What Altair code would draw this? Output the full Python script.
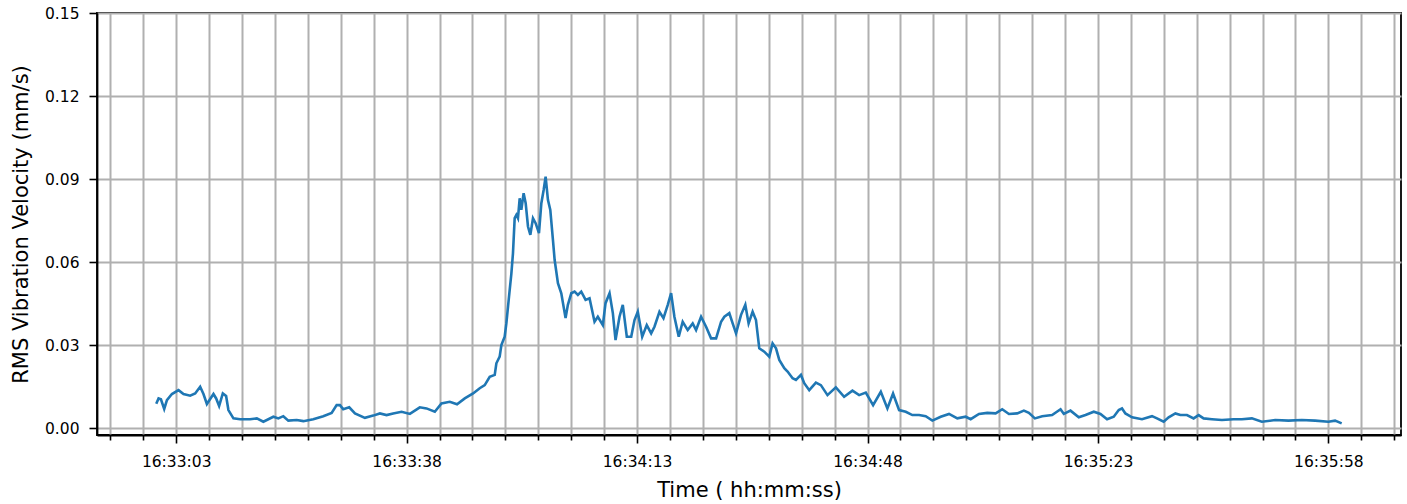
import altair as alt
import pandas as pd

# seconds relative to 16:33:03
T_SEC = [-3.03, -2.68, -2.32, -1.82, -1.41, -0.65, 0.35, 1.11, 2.12, 2.88, 3.64, 4.14, 4.66,
         5.66, 6.07, 6.52, 7.08, 7.58, 7.93, 8.69, 9.71, 11.22, 12.24, 13.24, 14.76, 15.51,
         16.27, 17.03, 18.30, 19.31, 20.82, 22.34, 23.61, 24.37, 24.87, 25.37, 26.28, 27.15,
         28.66, 29.92, 30.94, 31.95, 32.95, 34.23, 35.49, 37.00, 38.02, 39.28, 40.29, 41.55,
         42.66, 43.83, 45.09, 46.10, 46.86, 47.62, 48.38, 48.63, 49.13, 49.39, 49.89, 50.15,
         50.55, 50.91, 51.15, 51.41, 51.67, 51.91, 52.17, 52.42, 52.77, 53.08, 53.43, 53.79,
         54.19, 54.59, 55.10, 55.46, 55.81, 56.11, 56.46, 56.82, 57.22, 57.48, 57.98, 58.49,
         59.14, 59.49, 60.01, 60.51, 61.01, 61.52, 62.18, 62.78, 63.54, 64.04, 64.80, 65.21,
         65.82, 66.32, 66.73, 67.33, 67.83, 68.44, 69.11, 69.61, 70.11, 70.78, 71.47, 72.14,
         72.64, 73.40, 74.01, 74.66, 75.17, 75.67, 76.33, 76.93, 77.69, 78.45, 78.96, 79.72,
         80.48, 81.24, 82.00, 82.76, 83.26, 84.01, 84.52, 85.03, 85.79, 86.44, 86.94, 87.55,
         88.06, 88.56, 89.32, 90.08, 90.58, 91.10, 91.60, 92.36, 92.86, 93.62, 94.13, 94.89,
         95.39, 96.15, 97.16, 97.92, 98.92, 100.19, 101.45, 102.71, 103.73, 104.74, 105.85,
         107.02, 108.02, 108.88, 109.80, 110.81, 111.81, 112.83, 113.84, 114.85, 116.12,
         117.38, 118.64, 119.91, 120.67, 121.93, 123.19, 124.46, 125.46, 126.48, 127.74,
         128.75, 129.51, 130.42, 131.53, 133.04, 134.32, 134.82, 135.83, 137.09, 138.11,
         139.37, 140.38, 141.39, 142.40, 143.16, 143.66, 144.17, 145.18, 146.69, 148.21,
         148.97, 149.98, 150.74, 151.76, 152.52, 153.52, 154.53, 155.29, 156.05, 157.31,
         158.83, 160.60, 161.86, 163.38, 164.89, 166.92, 168.94, 170.96, 172.99, 175.00,
         176.02, 177.02]

RMS = [0.0089, 0.0108, 0.0105, 0.0070, 0.0102, 0.0124, 0.0138, 0.0124, 0.0118, 0.0126, 0.0150,
       0.0124, 0.0088, 0.0124, 0.0108, 0.0081, 0.0126, 0.0117, 0.0066, 0.0036, 0.0033, 0.0033,
       0.0036, 0.0024, 0.0042, 0.0036, 0.0044, 0.0028, 0.0030, 0.0026, 0.0033, 0.0044, 0.0056,
       0.0084, 0.0084, 0.0069, 0.0076, 0.0054, 0.0038, 0.0046, 0.0054, 0.0048, 0.0054, 0.0060,
       0.0052, 0.0076, 0.0072, 0.0060, 0.0090, 0.0096, 0.0087, 0.0108, 0.0126, 0.0145, 0.0156,
       0.0186, 0.0193, 0.0235, 0.0259, 0.0301, 0.0331, 0.0380, 0.0476, 0.0560, 0.0632, 0.0759,
       0.0771, 0.0759, 0.0831, 0.0789, 0.0849, 0.0813, 0.0729, 0.0699, 0.0759, 0.0741, 0.0705,
       0.0813, 0.0861, 0.0909, 0.0825, 0.0789, 0.0681, 0.0608, 0.0524, 0.0488, 0.0398, 0.0446,
       0.0488, 0.0494, 0.0482, 0.0494, 0.0464, 0.0470, 0.0385, 0.0403, 0.0373, 0.0452, 0.0488,
       0.0416, 0.0319, 0.0403, 0.0446, 0.0331, 0.0331, 0.0391, 0.0421, 0.0331, 0.0373, 0.0343,
       0.0367, 0.0421, 0.0398, 0.0446, 0.0488, 0.0403, 0.0331, 0.0385, 0.0355, 0.0379, 0.0355,
       0.0403, 0.0367, 0.0325, 0.0325, 0.0385, 0.0403, 0.0416, 0.0379, 0.0343, 0.0410, 0.0446,
       0.0379, 0.0421, 0.0391, 0.0289, 0.0277, 0.0259, 0.0307, 0.0289, 0.0247, 0.0217, 0.0205,
       0.0181, 0.0175, 0.0193, 0.0163, 0.0138, 0.0165, 0.0156, 0.0120, 0.0148, 0.0114, 0.0136,
       0.0120, 0.0129, 0.0084, 0.0132, 0.0072, 0.0126, 0.0066, 0.0060, 0.0048, 0.0048, 0.0044,
       0.0028, 0.0042, 0.0052, 0.0036, 0.0042, 0.0033, 0.0052, 0.0056, 0.0054, 0.0069, 0.0052,
       0.0054, 0.0064, 0.0056, 0.0036, 0.0044, 0.0048, 0.0069, 0.0052, 0.0064, 0.0040, 0.0048,
       0.0060, 0.0052, 0.0033, 0.0042, 0.0066, 0.0072, 0.0054, 0.0040, 0.0033, 0.0044, 0.0036,
       0.0024, 0.0040, 0.0054, 0.0048, 0.0048, 0.0036, 0.0048, 0.0036, 0.0033, 0.0030, 0.0033,
       0.0033, 0.0036, 0.0024, 0.0030, 0.0028, 0.0030, 0.0028, 0.0024, 0.0028, 0.0018]

MAJOR_SEC = [0, 35, 70, 105, 140, 175]
MAJOR_LABELS = ["16:33:03", "16:33:38", "16:34:13", "16:34:48", "16:35:23", "16:35:58"]
MINOR_SEC = [-10, -5, 0, 5, 10, 15, 20, 25, 30, 35, 40, 45, 50, 55, 60, 65, 70, 75, 80, 85,
             90, 95, 100, 105, 110, 115, 120, 125, 130, 135, 140, 145, 150, 155, 160, 165,
             170, 175, 180, 185]
Y_TICKS = [0.0, 0.03, 0.06, 0.09, 0.12, 0.15]
X_DOMAIN = [-12.03, 186.03]
Y_DOMAIN = [-0.0024, 0.15]

df = pd.DataFrame({"t": T_SEC, "rms": RMS})

label_expr = ""
for s, lab in zip(MAJOR_SEC, MAJOR_LABELS):
    label_expr += f"datum.value == {s} ? '{lab}' : "
label_expr += "''"
major_test = "indexof([" + ",".join(str(s) for s in MAJOR_SEC) + "], datum.value) >= 0"

FONT = "DejaVu Sans"

x_axis = alt.Axis(
    values=MINOR_SEC, labelExpr=label_expr, grid=True, gridColor="#b0b0b0", gridWidth=2,
    tickSize={"condition": {"test": major_test, "value": 8}, "value": 5},
    tickColor="black", tickWidth=1.6, domainColor="black", domainWidth=1.8,
    labelFont=FONT, labelFontSize=15.5, labelColor="black", labelPadding=11,
    labelFlush=False, labelOverlap=False,
    title="Time ( hh:mm:ss)", titleFont=FONT, titleFontSize=21, titleFontWeight="normal",
    titleColor="black", titlePadding=10,
)
y_axis = alt.Axis(
    values=Y_TICKS, format=".2f", grid=True, gridColor="#b0b0b0", gridWidth=2,
    tickSize=8, tickColor="black", tickWidth=1.6, domainColor="black", domainWidth=1.8,
    labelFont=FONT, labelFontSize=15.5, labelColor="black", labelPadding=10,
    title="RMS Vibration Velocity (mm/s)", titleFont=FONT, titleFontSize=21,
    titleFontWeight="normal", titleColor="black", titlePadding=13,
)

chart = alt.Chart(df).mark_line(color="#1f77b4", strokeWidth=2.6).encode(
    x=alt.X("t:Q", scale=alt.Scale(domain=X_DOMAIN, nice=False, zero=False), axis=x_axis),
    y=alt.Y("rms:Q", scale=alt.Scale(domain=Y_DOMAIN, nice=False, zero=False), axis=y_axis),
).properties(
    width=1304, height=422, padding={"left": 10, "top": 6, "right": 5, "bottom": 5},
    background="white",
).configure_view(stroke="black", strokeWidth=1.8)

chart.save("out.html", embed_options={"renderer": "svg", "actions": False})
